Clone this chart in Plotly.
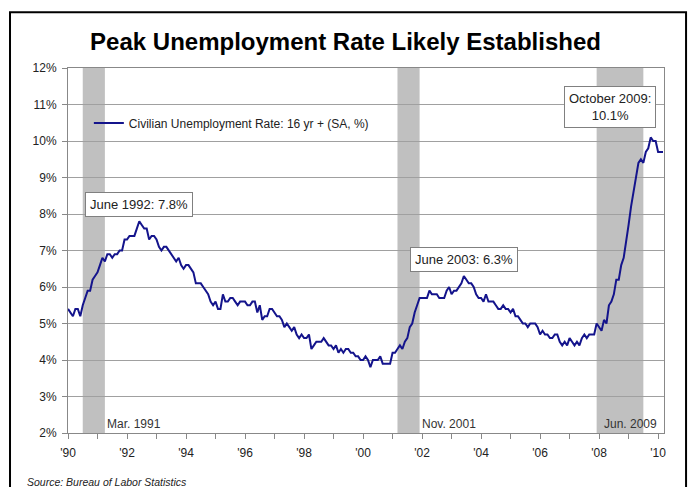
import plotly.graph_objects as go

# Monthly civilian unemployment rate, 16 yr +, seasonally adjusted (%), Jan 1990 - Mar 2010
start_year = 1990
unemployment_rate = [
    5.4, 5.3, 5.2, 5.4, 5.4, 5.2, 5.5, 5.7, 5.9, 5.9, 6.2, 6.3,   # 1990
    6.4, 6.6, 6.8, 6.7, 6.9, 6.9, 6.8, 6.9, 6.9, 7.0, 7.0, 7.3,   # 1991
    7.3, 7.4, 7.4, 7.4, 7.6, 7.8, 7.7, 7.6, 7.6, 7.3, 7.4, 7.4,   # 1992
    7.3, 7.1, 7.0, 7.1, 7.1, 7.0, 6.9, 6.8, 6.7, 6.8, 6.6, 6.5,   # 1993
    6.6, 6.6, 6.5, 6.4, 6.1, 6.1, 6.1, 6.0, 5.9, 5.8, 5.6, 5.5,   # 1994
    5.6, 5.4, 5.4, 5.8, 5.6, 5.6, 5.7, 5.7, 5.6, 5.5, 5.6, 5.6,   # 1995
    5.6, 5.5, 5.5, 5.6, 5.6, 5.3, 5.5, 5.1, 5.2, 5.2, 5.4, 5.4,   # 1996
    5.3, 5.2, 5.2, 5.1, 4.9, 5.0, 4.9, 4.8, 4.9, 4.7, 4.6, 4.7,   # 1997
    4.6, 4.6, 4.7, 4.3, 4.4, 4.5, 4.5, 4.5, 4.6, 4.5, 4.4, 4.4,   # 1998
    4.3, 4.4, 4.2, 4.3, 4.2, 4.3, 4.3, 4.2, 4.2, 4.1, 4.1, 4.0,   # 1999
    4.0, 4.1, 4.0, 3.8, 4.0, 4.0, 4.0, 4.1, 3.9, 3.9, 3.9, 3.9,   # 2000
    4.2, 4.2, 4.3, 4.4, 4.3, 4.5, 4.6, 4.9, 5.0, 5.3, 5.5, 5.7,   # 2001
    5.7, 5.7, 5.7, 5.9, 5.8, 5.8, 5.8, 5.7, 5.7, 5.7, 5.9, 6.0,   # 2002
    5.8, 5.9, 5.9, 6.0, 6.1, 6.3, 6.2, 6.1, 6.1, 6.0, 5.8, 5.7,   # 2003
    5.7, 5.6, 5.8, 5.6, 5.6, 5.6, 5.5, 5.4, 5.4, 5.5, 5.4, 5.4,   # 2004
    5.3, 5.4, 5.2, 5.2, 5.1, 5.0, 5.0, 4.9, 5.0, 5.0, 5.0, 4.9,   # 2005
    4.7, 4.8, 4.7, 4.7, 4.6, 4.6, 4.7, 4.7, 4.5, 4.4, 4.5, 4.4,   # 2006
    4.6, 4.5, 4.4, 4.5, 4.4, 4.6, 4.7, 4.6, 4.7, 4.7, 4.7, 5.0,   # 2007
    4.9, 4.8, 5.1, 5.0, 5.5, 5.6, 5.8, 6.2, 6.2, 6.6, 6.8, 7.2,   # 2008
    7.7, 8.2, 8.6, 8.9, 9.4, 9.5, 9.4, 9.7, 9.8, 10.1, 10.0, 10.0,  # 2009
    9.7, 9.7, 9.7,                                                # 2010
]
x_years = [start_year + i / 12 for i in range(len(unemployment_rate))]

# NBER recessions (start of first month, end of last month)
recession_start = [1990 + 6 / 12, 2001 + 2 / 12, 2007 + 11 / 12]
recession_end = [1991 + 3 / 12, 2001 + 11 / 12, 2009 + 6 / 12]
recession_labels = ["Mar. 1991", "Nov. 2001", "Jun. 2009"]

# Callouts: (year, month number, label prefix)
peak_year = [1992, 2003, 2009]
peak_month = [6, 6, 10]
peak_prefix = ["June 1992: ", "June 2003: ", "October 2009:<br>"]

x_tick_vals = list(range(1990, 2011))
x_tick_text = ["'90", "", "'92", "", "'94", "", "'96", "", "'98", "", "'00",
               "", "'02", "", "'04", "", "'06", "", "'08", "", "'10"]
y_tick_vals = list(range(2, 13))
y_tick_text = [f"{v}%" for v in y_tick_vals]

x_range = [1990, 2010.2]
y_range = [2, 12]

FONT = "Arial, 'Liberation Sans', sans-serif"

fig = go.Figure()
fig.add_trace(go.Scatter(
    x=x_years, y=unemployment_rate, mode="lines",
    name="Civilian Unemployment Rate: 16 yr + (SA, %)",
    line=dict(color="#14148c", width=2),
    hoverinfo="skip",
))

# Recession bands, above gridlines but under the series
for s, e in zip(recession_start, recession_end):
    fig.add_shape(type="rect", xref="x", yref="paper", x0=s, x1=e, y0=0, y1=1,
                  fillcolor="#c0c0c0", line=dict(width=0), layer="between")

# Recession end labels along the bottom of the plot
for i, (e, lab) in enumerate(zip(recession_end, recession_labels)):
    if i == len(recession_labels) - 1:
        fig.add_annotation(x=1, xref="paper", y=0, yref="paper", text=lab,
                           showarrow=False, xanchor="right", yanchor="bottom",
                           xshift=-5, font=dict(size=12, color="#333"))
    else:
        fig.add_annotation(x=e, xref="x", y=0, yref="paper", text=lab,
                           showarrow=False, xanchor="left", yanchor="bottom",
                           xshift=0, font=dict(size=12, color="#333"))

# Peak callouts
for yr, mo, prefix in zip(peak_year, peak_month, peak_prefix):
    idx = (yr - start_year) * 12 + (mo - 1)
    val = unemployment_rate[idx]
    box = dict(x=x_years[idx], y=val, text=f"{prefix}{val:.1f}%", showarrow=False,
               yanchor="bottom", bgcolor="white", bordercolor="#808080",
               borderwidth=1, borderpad=4, align="center",
               font=dict(size=13, color="#222"))
    if yr == 2009:
        box.update(xanchor="right", xshift=5, yshift=9)
    else:
        box.update(xanchor="center", yshift=4)
    fig.add_annotation(**box)

# Source note
fig.add_annotation(x=-0.0721, xref="paper", y=-0.134, yref="paper",
                   text="<i>Source: Bureau of Labor Statistics</i>",
                   showarrow=False, xanchor="left", yanchor="middle",
                   font=dict(size=10.5, color="#222"))

# Outer frame around the whole chart
fig.add_shape(type="rect", xref="paper", yref="paper",
              x0=-0.0973, x1=1.037, y0=-0.17, y1=1.153,
              line=dict(color="black", width=2), fillcolor="rgba(0,0,0,0)")

fig.update_layout(
    width=691, height=487,
    margin=dict(l=68, r=27, t=68, b=54),
    paper_bgcolor="white", plot_bgcolor="white",
    font=dict(family=FONT, size=12, color="#222"),
    title=dict(text="<b>Peak Unemployment Rate Likely Established</b>",
               x=0.5, xref="container", xanchor="center",
               y=1 - 42 / 487, yref="container", yanchor="middle",
               font=dict(size=24, color="black", family=FONT)),
    showlegend=True,
    legend=dict(x=0.035, y=0.849, xanchor="left", yanchor="middle",
                bgcolor="rgba(0,0,0,0)", font=dict(size=12, color="#222"),
                itemwidth=30),
)
fig.update_xaxes(range=x_range, tickmode="array", tickvals=x_tick_vals,
                 ticktext=x_tick_text, ticks="outside", ticklen=5,
                 tickcolor="#888", showline=True, linecolor="#888",
                 linewidth=1, mirror=True, showgrid=False, zeroline=False,
                 ticklabelstandoff=4, tickfont=dict(size=12))
fig.update_yaxes(range=y_range, tickmode="array", tickvals=y_tick_vals,
                 ticktext=y_tick_text, ticks="outside", ticklen=5,
                 tickcolor="#888", showline=True, linecolor="#888",
                 linewidth=1, mirror=True, showgrid=True, gridcolor="#a0a0a0",
                 gridwidth=1, zeroline=False, ticklabelstandoff=3,
                 tickfont=dict(size=12))

fig.write_html("out.html")
